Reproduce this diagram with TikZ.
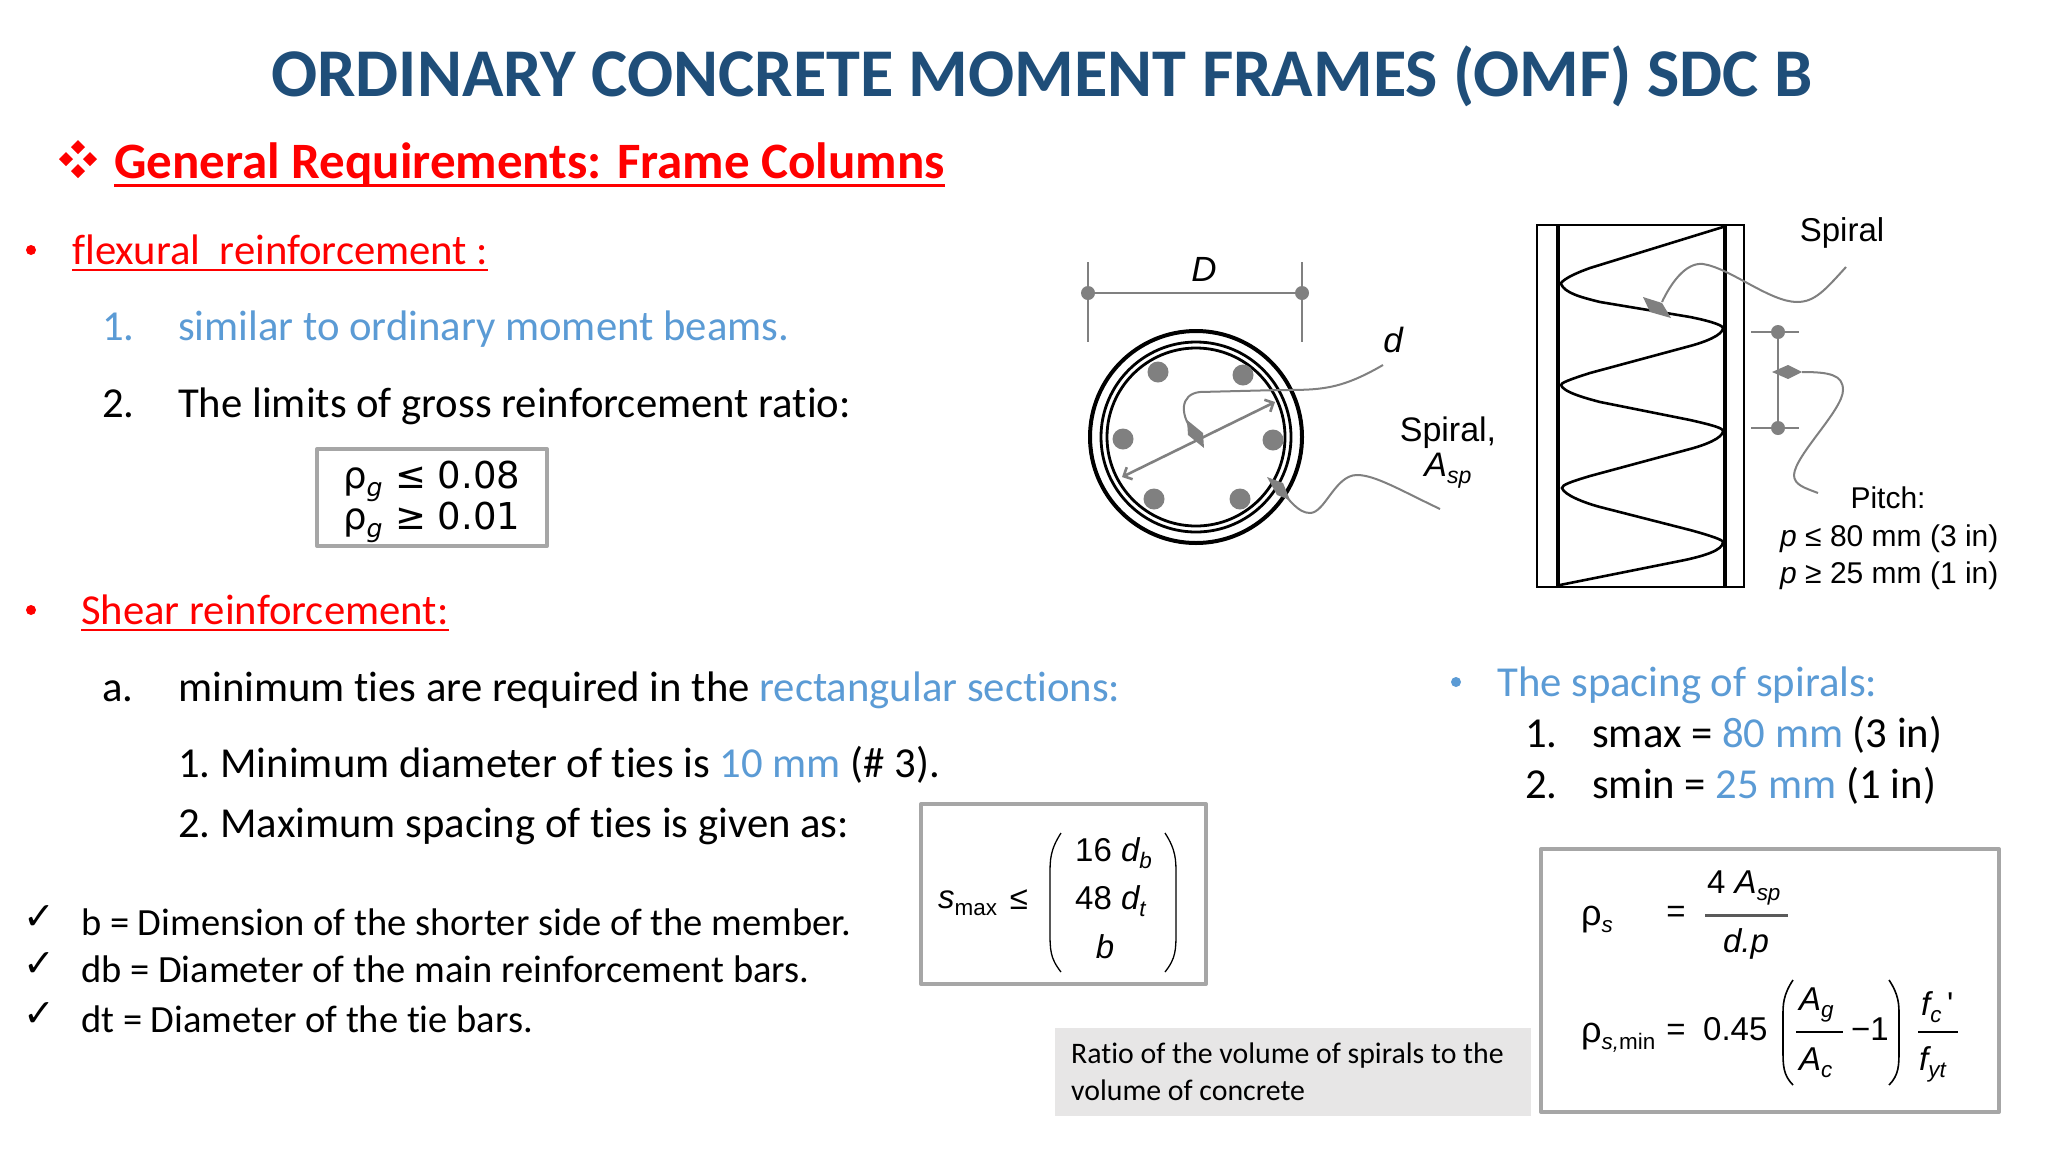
\documentclass[tikz,border=0pt]{standalone}
\usepackage{fontspec}
\usepackage{graphicx}
\setmainfont{Carlito}[Ligatures=NoCommon]
\newfontfamily\figfont{Liberation Sans}
\newfontfamily\rhofont{DejaVu Sans}
\usetikzlibrary{arrows.meta}
\definecolor{titleblue}{HTML}{1F4E79}
\definecolor{textblue}{HTML}{5B9BD5}
\definecolor{boxgray}{HTML}{A6A6A6}
\definecolor{notegray}{HTML}{E7E6E6}
\definecolor{leadgray}{HTML}{808080}
\newcommand{\lowsub}[1]{\raisebox{-.22em}{\scalebox{.68}{#1}}}
\newcommand{\bigrho}{{\figfont\fontsize{36}{36}\selectfont ρ}}
\tikzset{
  body/.style={anchor=base west,inner sep=0pt,font=\fontsize{42.7}{42.7}\selectfont},
  smallbody/.style={body,font=\fontsize{38.5}{38.5}\selectfont},
  notetext/.style={body,font=\fontsize{29.8}{29.8}\selectfont},
  fig/.style={inner sep=0pt,font=\figfont\fontsize{33}{33}\selectfont},
  figbase/.style={fig,anchor=base west},
  eq/.style={anchor=base west,inner sep=0pt,font=\figfont\fontsize{33}{33}\selectfont},
  rhoeq/.style={eq,font=\rhofont\fontsize{37}{37}\selectfont},
  frame/.style={draw=boxgray,line width=4pt,line join=round},
  leader/.style={draw=leadgray,line width=2pt},
  dimline/.style={draw=leadgray,line width=2.6pt},
  bigpar/.style={draw=black,line width=1.3pt},
  redline/.style={draw=red,line width=2.4pt},
}
\begin{document}
\begin{tikzpicture}[x=1pt,y=-1pt]
  \useasboundingbox (0,0) rectangle (2048,1152);
  \fill[white] (0,0) rectangle (2048,1152);
  % heading
  \node (title) [anchor=base,inner sep=0pt,text=titleblue,font=\bfseries\fontsize{68.3}{68.3}\selectfont] at (1042,96) {ORDINARY CONCRETE MOMENT FRAMES (OMF) SDC B};
  \foreach \dx/\dy in {0/-12,0/12,-12/0,12/0}
    \fill[red] (78+\dx,159+\dy-7) -- (78+\dx+7,159+\dy) -- (78+\dx,159+\dy+7) -- (78+\dx-7,159+\dy) -- cycle;
  \node (general) [body,text=red,font=\bfseries\fontsize{51}{51}\selectfont] at (114,178) {General Requirements: Frame Columns};
  \draw[redline,line width=3pt] ([yshift=-7pt]general.base west) -- ([yshift=-7pt]general.base east);
  % left column
  \fill[red] (31,250) circle (5);
  \node (flex) [body,text=red] at (72,264) {flexural\ \ reinforcement :};
  \draw[redline] ([yshift=-6pt]flex.base west) -- ([yshift=-6pt]flex.base east);
  \node (flexa) [body,text=textblue] at (102,340) {1.};
  \node (flexat) [body,text=textblue] at (178,340) {similar to ordinary moment beams.};
  \node (flexb) [body] at (102,417) {2.};
  \node (flexbt) [body] at (178,417) {The limits of gross reinforcement ratio:};
  \fill[red] (31,610) circle (5);
  \node (shear) [body,text=red] at (81,624) {Shear reinforcement:};
  \draw[redline] ([yshift=-6pt]shear.base west) -- ([yshift=-6pt]shear.base east);
  \node (sheara) [body] at (102,701) {a.};
  \node (shearat) [body] at (178,701) {minimum ties are required in the \textcolor{textblue}{rectangular sections:}};
  \node (tiea) [body] at (178,777) {1.\hspace{-3pt} Minimum diameter of ties is \textcolor{textblue}{10 mm} (\# 3).};
  \node (tieb) [body] at (178,837) {2.\hspace{-3pt} Maximum spacing of ties is given as:};
  \foreach \i/\ytick/\ybase/\txt in {a/918/935/{b = Dimension of the shorter side of the member.},
      b/965/982/{db = Diameter of the main reinforcement bars.},
      c/1015/1032/{dt = Diameter of the tie bars.}}{
    \node (check\i) [inner sep=0pt,font=\rhofont\fontsize{38}{38}\selectfont] at (39,\ytick) {✓};
    \node (def\i) [smallbody] at (81,\ybase) {\txt};
  }
  % rho_g box
  \draw[frame] (317,449) rectangle (547,546);
  \node (rgone) [rhoeq] at (343,488) {ρ\lowsub{\itshape g}};
  \node (rgonev) [rhoeq] at (395,488) {≤ 0.08};
  \node (rgtwo) [rhoeq] at (343,529) {ρ\lowsub{\itshape g}};
  \node (rgtwov) [rhoeq] at (395,529) {≥ 0.01};
  % smax box
  \draw[frame] (921,804) rectangle (1206,984);
  \node (smax) [eq] at (938,908) {\itshape s\lowsub{\upshape max}};
  \node (smaxle) [fig] at (1019,900) {≤};
  \draw[bigpar] (1061,833) .. controls (1050,850) and (1050,860) .. (1050,875) -- (1050,930) .. controls (1050,950) and (1050,958) .. (1061,972);
  \draw[bigpar] (1165,833) .. controls (1176,850) and (1176,860) .. (1176,875) -- (1176,930) .. controls (1176,950) and (1176,958) .. (1165,972);
  \node (sixteen) [eq] at (1075,861) {16 \itshape d\lowsub{b}};
  \node (fortyeight) [eq] at (1075,909) {48 \itshape d\lowsub{t}};
  \node (memb) [eq,anchor=base] at (1105,958) {\itshape b};
  % note
  \fill[notegray] (1055,1028) rectangle (1531,1116);
  \node (notea) [notetext] at (1071,1063) {Ratio of the volume of spirals to the};
  \node (noteb) [notetext] at (1071,1100) {volume of concrete};
  % spacing list
  \fill[textblue] (1456,682) circle (5);
  \node (spacing) [body,text=textblue] at (1497,696) {The spacing of spirals:};
  \node (spa) [body] at (1525,747) {1.};
  \node (spat) [body] at (1592,747) {smax = \textcolor{textblue}{80 mm} (3 in)};
  \node (spb) [body] at (1525,798) {2.};
  \node (spbt) [body] at (1592,798) {smin = \textcolor{textblue}{25 mm} (1 in)};
  % rho_s box
  \draw[frame] (1541,849) rectangle (1999,1112);
  \node (rs) [eq] at (1581,925) {\bigrho\lowsub{\itshape s}};
  \node (rseq) [eq,anchor=center] at (1676,914) {=};
  \node (rsnum) [eq] at (1707,893) {4 \itshape A\lowsub{sp}};
  \draw[draw=leadgray!70!black,line width=3pt] (1705,915) -- (1788,915);
  \node (rsden) [eq,anchor=base] at (1746,952) {\itshape d.p};
  \node (rm) [eq] at (1581,1042) {\bigrho\lowsub{\itshape s,\upshape min}};
  \node (rmeq) [eq,anchor=center] at (1676,1032) {=};
  \node (rmval) [eq] at (1703,1040) {0.45};
  \draw[bigpar,line width=1.6pt] (1793,980) .. controls (1783,995) and (1783,1005) .. (1783,1015) -- (1783,1050) .. controls (1783,1065) and (1783,1075) .. (1793,1085);
  \draw[bigpar,line width=1.6pt] (1889,980) .. controls (1899,995) and (1899,1005) .. (1899,1015) -- (1899,1050) .. controls (1899,1065) and (1899,1075) .. (1889,1085);
  \node (ag) [eq] at (1799,1010) {\itshape A\lowsub{g}};
  \draw[line width=1.4pt] (1796,1032) -- (1843,1032);
  \node (ac) [eq] at (1799,1070) {\itshape A\lowsub{c}};
  \node (mone) [eq] at (1851,1040) {−1};
  \node (fc) [eq] at (1921,1015) {\itshape f\lowsub{c}\,\upshape '};
  \draw[line width=1.4pt] (1918,1032) -- (1958,1032);
  \node (fyt) [eq] at (1919,1070) {\itshape f\lowsub{yt}};
  % section figure
  \draw[black,line width=4pt] (1196,437) circle (106);
  \draw[black,line width=2.8pt] (1196,437) circle (95);
  \draw[black,line width=2.8pt] (1196,437) circle (89);
  \foreach \px/\py in {1158/372,1243/375,1123/439,1273/440,1154/499,1240/499}
    \fill[leadgray] (\px,\py) circle (10.5);
  \draw[dimline] (1088,262) -- (1088,342);
  \draw[dimline] (1302,262) -- (1302,342);
  \draw[dimline] (1088,293) -- (1302,293);
  \fill[leadgray] (1088,293) circle (7) (1302,293) circle (7);
  \node (dia) [fig,font=\figfont\itshape\fontsize{35}{35}\selectfont] at (1204,269) {D};
  \draw[dimline,Straight Barb-Straight Barb] (1122,477) -- (1275,402);
  \draw[leader] (1383,365) .. controls (1340,390) and (1320,390) .. (1280,390) -- (1200,392) .. controls (1180,394) and (1178,415) .. (1197,437);
  \fill[leadgray] (1187,420) -- (1203,433) -- (1204,448) -- (1188,435) -- cycle;
  \node (dlab) [fig,font=\figfont\itshape\fontsize{35}{35}\selectfont] at (1393,340) {d};
  \draw[leader] (1440,509) .. controls (1400,490) and (1375,475) .. (1357,475) .. controls (1335,475) and (1325,513) .. (1310,513) .. controls (1298,513) and (1290,500) .. (1280,490);
  \fill[leadgray] (1267,477) -- (1283,483) -- (1290,500) -- (1277,495) -- cycle;
  \node (spiralasp) [figbase,anchor=base,font=\figfont\fontsize{34}{34}\selectfont] at (1448,441) {Spiral,};
  \node (asp) [figbase,anchor=base,font=\figfont\fontsize{34}{34}\selectfont] at (1448,476) {\itshape A\lowsub{sp}};
  % elevation figure
  \draw[black,line width=2.4pt] (1537,225) rectangle (1744,587);
  \draw[black,line width=3.4pt] (1558,225) -- (1558,587);
  \draw[black,line width=4.4pt] (1725,225) -- (1725,587);
  \draw[black,line width=2.6pt] (1723,227) -- (1590,268) .. controls (1562,278) and (1560,284) .. (1561,284)
    .. controls (1565,293) and (1580,297) .. (1600,302) -- (1690,317) .. controls (1715,322) and (1723,326) .. (1723,328)
    .. controls (1723,335) and (1705,342) .. (1690,346) -- (1590,373) .. controls (1568,380) and (1561,383) .. (1561,385)
    .. controls (1563,392) and (1585,398) .. (1600,402) -- (1690,420) .. controls (1712,425) and (1723,428) .. (1723,431)
    .. controls (1723,438) and (1705,445) .. (1690,449) -- (1590,476) .. controls (1570,482) and (1562,485) .. (1562,488)
    .. controls (1564,495) and (1585,503) .. (1600,507) -- (1690,530) .. controls (1712,536) and (1723,540) .. (1723,542)
    .. controls (1723,550) and (1705,556) .. (1680,561) -- (1560,585);
  \draw[leader] (1846,267) .. controls (1825,290) and (1815,302) .. (1797,302) .. controls (1770,302) and (1730,268) .. (1703,264) .. controls (1685,262) and (1670,285) .. (1662,302);
  \fill[leadgray] (1643,297) -- (1662,303) -- (1671,318) -- (1650,312) -- cycle;
  \draw[dimline] (1751,332) -- (1799,332);
  \draw[dimline] (1751,428) -- (1799,428);
  \draw[dimline] (1778,332) -- (1778,428);
  \fill[leadgray] (1778,332) circle (7) (1778,428) circle (7);
  \fill[leadgray] (1772,372) -- (1788,365) -- (1802,372) -- (1788,379) -- cycle;
  \draw[leader] (1802,372) .. controls (1830,372) and (1843,375) .. (1843,390) .. controls (1843,410) and (1795,455) .. (1794,475) .. controls (1794,485) and (1805,488) .. (1818,493);
  \node (spirallab) [fig] at (1842,233) {Spiral};
  \node (pitch) [fig,font=\figfont\fontsize{30}{30}\selectfont] at (1888,498) {Pitch:};
  \node (pone) [figbase,font=\figfont\fontsize{30}{30}\selectfont] at (1780,546) {\itshape p \upshape≤ 80 mm (3 in)};
  \node (ptwo) [figbase,font=\figfont\fontsize{30}{30}\selectfont] at (1780,583) {\itshape p \upshape≥ 25 mm (1 in)};
\end{tikzpicture}
\end{document}
